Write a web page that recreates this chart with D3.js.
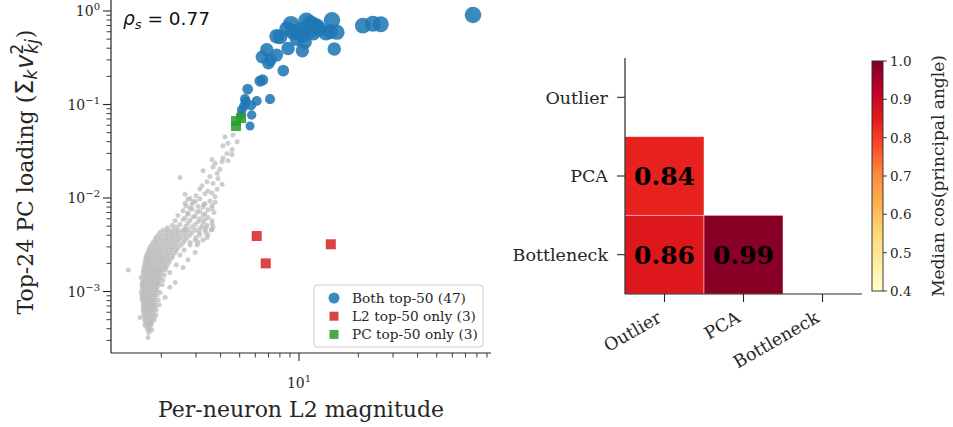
<!DOCTYPE html>
<html>
<head>
<meta charset="utf-8">
<script src="https://cdn.jsdelivr.net/npm/d3@7"></script>
<style>
body { margin: 0; background: #fff; }
svg { display: block; }
</style>
</head>
<body>
<div id="chart"></div>
<script>
// ---- data ----
// neurons in both top-50 lists: [L2 magnitude, PC loading]
var bothTop = [
    [76.4,0.906],[21.1,0.697],[23.7,0.731],[26.0,0.721],[10.9,0.787],[9.11,0.726],[8.69,0.642],[10.1,0.626],
    [11.4,0.739],[12.3,0.686],[11.8,0.582],[14.7,0.795],[14.4,0.601],[15.6,0.592],[13.7,0.582],[10.5,0.554],
    [9.77,0.502],[10.7,0.466],[7.70,0.536],[8.01,0.527],[8.80,0.397],[10.4,0.376],[15.1,0.392],[6.86,0.385],
    [6.49,0.322],[7.70,0.338],[7.17,0.301],[6.99,0.276],[8.32,0.230],[6.34,0.178],[6.54,0.183],[5.49,0.146],
    [7.13,0.114],[6.10,0.109],[5.38,0.107],[5.71,0.0976],[5.12,0.0873],[5.75,0.0772],[5.09,0.0772],[5.64,0.0589],
    [5.32,0.114],[9.92,0.577],[11.15,0.601],[11.8,0.708],[12.6,0.642],[5.26,0.0964],[9.32,0.596]
];
var l2Only = [[6.10,0.00392],[6.78,0.0020],[14.5,0.0032]];
var pcOnly = [[5.08,0.0717],[4.79,0.0666],[4.79,0.0589]];

// remaining neurons, sparse upper tail: [L2 magnitude, PC loading]
var otherTail = [
    [4.62,0.0472],[4.21,0.0450],[4.36,0.0385],[4.85,0.0400],[4.11,0.0362],[4.57,0.0330],[4.31,0.0300],[4.57,0.0292],
    [4.11,0.0268],[3.62,0.0258],[4.36,0.0251],[3.75,0.0236],[4.07,0.0245],[3.66,0.0215],[3.26,0.0196],[3.97,0.0203],
    [3.84,0.0184],[2.49,0.0166],[3.53,0.0170],[3.88,0.0162],[3.41,0.0149],[3.66,0.0143],[3.22,0.0135],[4.07,0.0140],
    [3.14,0.0125],[3.45,0.0119],[3.84,0.0124],[3.62,0.0113],[2.64,0.0110],[3.00,0.0106],[3.33,0.0111],[2.80,0.0099],
    [3.75,0.0103],[2.73,0.0097],[2.97,0.0092],[3.14,0.0098],[3.53,0.0093],[2.64,0.0088],[2.90,0.0091],[3.33,0.0087],
    [3.75,0.0090],[2.67,0.0082],[2.86,0.0086],[3.07,0.0081],[3.29,0.0085],[3.62,0.0083],[2.80,0.0078],[3.26,0.0080],
    [3.62,0.0077],[2.58,0.0073],[2.86,0.0076],[3.14,0.0072],[3.45,0.0075],[2.73,0.0069],[3.04,0.0071],[3.33,0.0068],
    [3.70,0.0070],[2.43,0.0065],[2.73,0.0067],[2.97,0.0064],[3.26,0.0066],[2.64,0.0061],[2.90,0.0063],[3.14,0.0060],
    [3.45,0.0062],[2.35,0.0057],[2.58,0.0059],[2.80,0.0058],[3.07,0.0056],[3.33,0.0059],[3.62,0.0057],[2.73,0.0054],
    [3.26,0.0055],[3.62,0.0053],[2.27,0.0051],[2.49,0.0052],[2.67,0.0050],[2.97,0.0052],[3.22,0.0050],[3.41,0.0051],
    [3.66,0.0049],[2.14,0.0048],[2.38,0.0049],[2.64,0.0047],[2.86,0.0049],[3.14,0.0047],[3.37,0.0048],[3.62,0.0046]
];

// remaining neurons, dense core grouped by PC loading: [loading, [L2 values]]
var otherRows = [
    [0.00455,[2.04,2.16,2.29,2.43,2.58,2.73,2.97,3.33,3.58]],
    [0.00428,[1.97,2.11,2.24,2.38,2.52,2.67,2.86,3.11,3.37]],
    [0.00403,[1.93,2.04,2.16,2.29,2.43,2.61,2.80,3.14,3.45]],
    [0.00379,[1.88,1.99,2.11,2.24,2.38,2.52,2.70,3.00,3.41]],
    [0.00356,[1.86,1.95,2.07,2.19,2.32,2.46,2.64,2.97,3.26]],
    [0.00335,[1.82,1.90,2.02,2.14,2.27,2.40,2.58,2.80,3.07]],
    [0.00315,[1.79,1.88,1.97,2.09,2.21,2.35,2.52,2.80,3.04]],
    [0.00296,[1.75,1.84,1.93,2.04,2.16,2.29,2.43]],
    [0.00278,[1.73,1.82,1.90,1.99,2.11,2.24,2.38,2.61]],
    [0.00262,[1.71,1.79,1.88,1.97,2.09,2.21,2.35,2.97]],
    [0.00246,[1.69,1.77,1.86,1.95,2.04,2.16,2.29,2.49]],
    [0.00231,[1.67,1.75,1.84,1.93,2.02,2.14,2.27]],
    [0.00218,[1.67,1.73,1.82,1.90,1.99,2.09,2.21,2.73]],
    [0.00205,[1.65,1.73,1.79,1.88,1.97,2.07,2.19]],
    [0.00192,[1.65,1.71,1.79,1.86,1.95,2.04,2.14,2.38]],
    [0.00181,[1.63,1.71,1.77,1.86,1.93,2.02,2.11,2.58]],
    [0.00170,[1.36,1.63,1.69,1.77,1.84,1.93,1.99,2.09]],
    [0.00160,[1.62,1.69,1.75,1.84,1.90,1.99,2.21]],
    [0.00150,[1.62,1.67,1.75,1.82,1.90,1.97,2.07]],
    [0.00141,[1.58,1.67,1.73,1.82,1.88,1.97]],
    [0.00133,[1.62,1.67,1.73,1.79,1.88,1.95,2.04]],
    [0.00125,[1.60,1.65,1.71,1.79,1.86,1.93,2.35]],
    [0.00118,[1.60,1.65,1.71,1.77,1.86,1.93,2.02]],
    [0.00111,[1.60,1.65,1.71,1.77,1.84,1.90,2.21]],
    [0.00104,[1.60,1.65,1.71,1.77,1.84,1.90]],
    [0.000977,[1.58,1.63,1.69,1.75,1.82,1.88,1.97]],
    [0.000919,[1.60,1.65,1.71,1.77,1.84,1.90]],
    [0.000864,[1.60,1.65,1.71,1.77,1.84,2.09]],
    [0.000813,[1.60,1.65,1.71,1.77,1.84,1.93]],
    [0.000764,[1.62,1.67,1.73,1.79,1.86]],
    [0.000719,[1.62,1.67,1.73,1.79,1.86,1.95]],
    [0.000676,[1.62,1.67,1.73,1.79,1.86]],
    [0.000635,[1.62,1.67,1.73,1.79,1.88]],
    [0.000597,[1.63,1.69,1.75,1.82]],
    [0.000562,[1.63,1.69,1.75,1.82,1.88]],
    [0.000528,[1.56,1.65,1.71,1.77,1.84]],
    [0.000497,[1.65,1.71,1.77,1.84]],
    [0.000467,[1.67,1.73,1.79]],
    [0.000439,[1.65,1.71,1.77]],
    [0.000413,[1.69,1.75]],
    [0.000388,[1.71,1.79]],
    [0.000365,[1.73]],
    [0.000323,[1.71]]
];

var rhoS = "0.77";
var legendLabels = ["Both top-50 (47)", "L2 top-50 only (3)", "PC top-50 only (3)"];
var yTickExps = [0, -1, -2, -3];
var xTickExps = [1];

var methods = ["Outlier", "PCA", "Bottleneck"];
var medianCos = [
    [null, null, null],
    [0.84, null, null],
    [0.86, 0.99, null]
];
var cbTicks = [0.4, 0.5, 0.6, 0.7, 0.8, 0.9, 1.0];

// ---- setup ----
var W = 953, H = 427;
var serif = "'DejaVu Serif', serif";
var sans = "'DejaVu Sans', sans-serif";
var ink = "#262626";

var svg = d3.select("#chart").append("svg")
    .attr("width", W)
    .attr("height", H);

/******************************
/* left: scatter
******************************/
var sL = 111, sR = 491, sT = 0, sB = 353;

var x = d3.scaleLog().domain([1.111, 94.3]).range([sL, sR]);
var y = d3.scaleLog().domain([2.2e-4, 1.311]).range([sB, sT]);
var rBlue = d3.scaleSqrt().domain([0.05, 0.8]).range([4.4, 8.3]).clamp(true);

var others = otherTail.slice();
otherRows.forEach(function(row){
    row[1].forEach(function(v){ others.push([v, row[0]]); });
});

var plot = svg.append("g");

plot.selectAll("circle.other")
    .data(others)
    .enter()
    .append("circle")
    .attr("class", "other")
    .attr("cx", function(d){ return x(d[0]); })
    .attr("cy", function(d){ return y(d[1]); })
    .attr("r", 2.5)
    .attr("fill", "#bbbbbb")
    .attr("fill-opacity", 0.72);

plot.selectAll("circle.both")
    .data(bothTop)
    .enter()
    .append("circle")
    .attr("class", "both")
    .attr("cx", function(d){ return x(d[0]); })
    .attr("cy", function(d){ return y(d[1]); })
    .attr("r", function(d){ return rBlue(d[1]); })
    .attr("fill", "#1f77b4")
    .attr("fill-opacity", 0.87);

var sq = 10;
plot.selectAll("rect.l2")
    .data(l2Only)
    .enter()
    .append("rect")
    .attr("x", function(d){ return x(d[0]) - sq/2; })
    .attr("y", function(d){ return y(d[1]) - sq/2; })
    .attr("width", sq)
    .attr("height", sq)
    .attr("fill", "#d62728")
    .attr("fill-opacity", 0.87);

plot.selectAll("rect.pc")
    .data(pcOnly)
    .enter()
    .append("rect")
    .attr("x", function(d){ return x(d[0]) - sq/2; })
    .attr("y", function(d){ return y(d[1]) - sq/2; })
    .attr("width", sq)
    .attr("height", sq)
    .attr("fill", "#2ca02c")
    .attr("fill-opacity", 0.87);

// spines
svg.append("line").attr("x1", sL).attr("x2", sL).attr("y1", sT).attr("y2", sB)
    .attr("stroke", ink).attr("stroke-width", 1.2);
svg.append("line").attr("x1", sL).attr("x2", sR).attr("y1", sB).attr("y2", sB)
    .attr("stroke", ink).attr("stroke-width", 1.2);

function isPow10(v){
    var l = Math.log10(v);
    return Math.abs(l - Math.round(l)) < 1e-6;
}

// x ticks
x.ticks().forEach(function(v){
    var major = isPow10(v);
    svg.append("line")
        .attr("x1", x(v)).attr("x2", x(v))
        .attr("y1", sB).attr("y2", sB + (major ? 8 : 4.5))
        .attr("stroke", ink).attr("stroke-width", major ? 1.1 : 0.9);
});
xTickExps.forEach(function(e){
    var t = svg.append("text")
        .attr("x", x(Math.pow(10, e)))
        .attr("y", 388)
        .attr("text-anchor", "middle")
        .style("font-family", serif)
        .style("font-size", "14px")
        .attr("fill", ink);
    t.append("tspan").text("10");
    t.append("tspan").attr("dy", -6).style("font-size", "10px").text(String(e).replace("-", "\u2212"));
});

// y ticks
y.ticks().forEach(function(v){
    var major = isPow10(v);
    svg.append("line")
        .attr("x1", sL - (major ? 8 : 4.5)).attr("x2", sL)
        .attr("y1", y(v)).attr("y2", y(v))
        .attr("stroke", ink).attr("stroke-width", major ? 1.1 : 0.9);
});
yTickExps.forEach(function(e){
    var t = svg.append("text")
        .attr("x", 100)
        .attr("y", y(Math.pow(10, e)) + 5)
        .attr("text-anchor", "end")
        .style("font-family", serif)
        .style("font-size", "14px")
        .attr("fill", ink);
    t.append("tspan").text("10");
    t.append("tspan").attr("dy", -6).style("font-size", "10px").text(String(e).replace("-", "\u2212"));
});

// axis labels
svg.append("text")
    .attr("x", (sL + sR) / 2)
    .attr("y", 417)
    .attr("text-anchor", "middle")
    .style("font-family", serif)
    .style("font-size", "22px")
    .attr("fill", ink)
    .text("Per-neuron L2 magnitude");

var yl = svg.append("text")
    .attr("transform", "translate(33,172) rotate(-90)")
    .attr("text-anchor", "middle")
    .style("font-family", serif)
    .style("font-size", "22px")
    .attr("fill", ink);
yl.append("tspan").text("Top-24 PC loading (");
yl.append("tspan").style("font-family", sans).style("font-size", "24px").text("\u03a3");
yl.append("tspan").style("font-family", sans).style("font-style", "italic").style("font-size", "17px").attr("dy", 4).text("k");
yl.append("tspan").style("font-family", sans).style("font-style", "italic").style("font-size", "24px").attr("dy", -4).attr("dx", 1).text("v");
yl.append("tspan").style("font-family", sans).style("font-size", "17px").attr("dy", -10).text("2");
yl.append("tspan").style("font-family", sans).style("font-style", "italic").style("font-size", "17px").attr("dx", -10).attr("dy", 15).text("kj");
yl.append("tspan").attr("dy", -5).attr("dx", 1).text(")");

// rho annotation
var rho = svg.append("text")
    .attr("x", 123)
    .attr("y", 25)
    .style("font-family", sans)
    .style("font-size", "18.5px")
    .attr("fill", "#111");
rho.append("tspan").style("font-style", "italic").text("\u03c1");
rho.append("tspan").style("font-style", "italic").style("font-size", "13px").attr("dy", 4).text("s");
rho.append("tspan").attr("dy", -4).text(" = " + rhoS);

// legend
var leg = svg.append("g");
leg.append("rect")
    .attr("x", 314).attr("y", 285)
    .attr("width", 169).attr("height", 62)
    .attr("rx", 3)
    .attr("fill", "#fff").attr("fill-opacity", 0.8)
    .attr("stroke", "#cccccc").attr("stroke-width", 1);
var legColors = ["#1f77b4", "#d62728", "#2ca02c"];
legendLabels.forEach(function(lbl, i){
    var cy = 298 + i * 18.2;
    if (i === 0) {
        leg.append("circle").attr("cx", 334).attr("cy", cy).attr("r", 5.5)
            .attr("fill", legColors[i]).attr("fill-opacity", 0.87);
    } else {
        leg.append("rect").attr("x", 334 - 4.5).attr("y", cy - 4.5)
            .attr("width", 9).attr("height", 9)
            .attr("fill", legColors[i]).attr("fill-opacity", 0.87);
    }
    leg.append("text")
        .attr("x", 352).attr("y", cy + 4.8)
        .style("font-family", serif)
        .style("font-size", "13.7px")
        .attr("fill", ink)
        .text(lbl);
});

/******************************
/* right: lower-triangle heatmap
******************************/
var hL = 625, hR = 862, hT = 58, hB = 294;
var ylorrd = ["#ffffcc","#ffeda0","#fed976","#feb24c","#fd8d3c","#fc4e2a","#e31a1c","#bd0026","#800026"];
var vmin = 0.4, vmax = 1.0;
var color = d3.scaleLinear()
    .domain(ylorrd.map(function(c, i){ return vmin + i * (vmax - vmin) / (ylorrd.length - 1); }))
    .range(ylorrd)
    .clamp(true);

var hx = d3.scaleBand().domain(methods).range([hL, hR]);
var hy = d3.scaleBand().domain(methods).range([hT, hB]);

var cells = [];
medianCos.forEach(function(row, i){
    row.forEach(function(v, j){
        if (v !== null) cells.push({ row: methods[i], col: methods[j], v: v });
    });
});

var hm = svg.append("g");
hm.selectAll("rect")
    .data(cells)
    .enter()
    .append("rect")
    .attr("x", function(d){ return hx(d.col); })
    .attr("y", function(d){ return hy(d.row); })
    .attr("width", hx.bandwidth())
    .attr("height", hy.bandwidth())
    .attr("fill", function(d){ return color(d.v); })
    .attr("stroke", "#fff")
    .attr("stroke-opacity", 0.55)
    .attr("stroke-width", 0.8);

hm.selectAll("text")
    .data(cells)
    .enter()
    .append("text")
    .attr("x", function(d){ return hx(d.col) + hx.bandwidth() / 2; })
    .attr("y", function(d){ return hy(d.row) + hy.bandwidth() / 2; })
    .attr("dy", "0.36em")
    .attr("text-anchor", "middle")
    .style("font-family", serif)
    .style("font-size", "25px")
    .style("font-weight", "bold")
    .attr("fill", "#000")
    .text(function(d){ return d.v.toFixed(2); });

svg.append("line").attr("x1", hL).attr("x2", hL).attr("y1", hT).attr("y2", hB)
    .attr("stroke", ink).attr("stroke-width", 1.2);
svg.append("line").attr("x1", hL).attr("x2", hR).attr("y1", hB).attr("y2", hB)
    .attr("stroke", ink).attr("stroke-width", 1.2);

methods.forEach(function(m){
    var cy = hy(m) + hy.bandwidth() / 2;
    svg.append("line").attr("x1", hL - 8).attr("x2", hL).attr("y1", cy).attr("y2", cy)
        .attr("stroke", ink).attr("stroke-width", 1.1);
    svg.append("text")
        .attr("x", hL - 17).attr("y", cy)
        .attr("dy", "0.36em")
        .attr("text-anchor", "end")
        .style("font-family", serif)
        .style("font-size", "17.5px")
        .attr("fill", ink)
        .text(m);

    var cx = hx(m) + hx.bandwidth() / 2;
    svg.append("line").attr("x1", cx).attr("x2", cx).attr("y1", hB).attr("y2", hB + 8)
        .attr("stroke", ink).attr("stroke-width", 1.1);
    svg.append("text")
        .attr("transform", "translate(" + (cx - 2) + ",321) rotate(-30)")
        .attr("text-anchor", "end")
        .style("font-family", serif)
        .style("font-size", "17.5px")
        .attr("fill", ink)
        .text(m);
});

// colorbar
var cbX = 872, cbW = 11, cbT = 61, cbB = 291;
var grad = svg.append("defs").append("linearGradient")
    .attr("id", "cbgrad")
    .attr("x1", "0").attr("x2", "0").attr("y1", "1").attr("y2", "0");
ylorrd.forEach(function(c, i){
    grad.append("stop").attr("offset", (i / (ylorrd.length - 1))).attr("stop-color", c);
});
svg.append("rect")
    .attr("x", cbX).attr("y", cbT)
    .attr("width", cbW).attr("height", cbB - cbT)
    .attr("fill", "url(#cbgrad)")
    .attr("stroke", ink).attr("stroke-width", 0.9);

var cb = d3.scaleLinear().domain([vmin, vmax]).range([cbB, cbT]);
cbTicks.forEach(function(v){
    svg.append("line")
        .attr("x1", cbX + cbW).attr("x2", cbX + cbW + 4)
        .attr("y1", cb(v)).attr("y2", cb(v))
        .attr("stroke", ink).attr("stroke-width", 0.9);
    svg.append("text")
        .attr("x", cbX + cbW + 7).attr("y", cb(v))
        .attr("dy", "0.36em")
        .style("font-family", serif)
        .style("font-size", "13.5px")
        .attr("fill", ink)
        .text(v.toFixed(1));
});
svg.append("text")
    .attr("transform", "translate(944," + ((cbT + cbB) / 2) + ") rotate(-90)")
    .attr("text-anchor", "middle")
    .style("font-family", serif)
    .style("font-size", "17px")
    .attr("fill", ink)
    .text("Median cos(principal angle)");
</script>
</body>
</html>
